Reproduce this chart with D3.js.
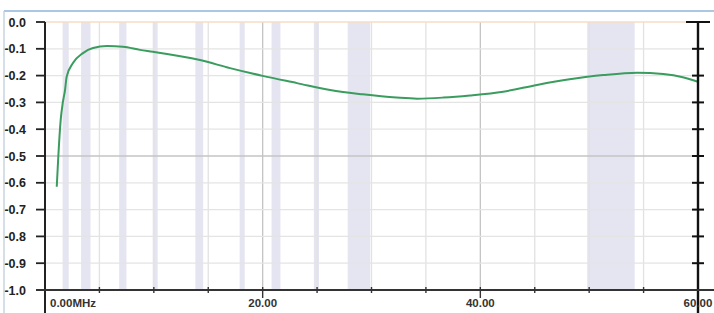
<!DOCTYPE html>
<html><head><meta charset="utf-8">
<script src="https://cdn.jsdelivr.net/npm/d3@7"></script>
<style>html,body{margin:0;padding:0;background:#fff;}svg{display:block;}</style>
</head><body>
<svg id="c" width="714" height="313"></svg>
<script>
const freqMHz = [1.08,1.22,1.44,1.63,1.84,1.99,2.57,3.49,4.41,5.70,7.17,8.73,9.92,14.24,17.0,20.0,23.15,26.2,29.2,32.3,34.2,36.6,39.05,42.1,45.2,48.2,51.3,54.4,56.8,58.6,60.0];
const levelDb = [-0.615,-0.504,-0.366,-0.302,-0.254,-0.204,-0.153,-0.116,-0.097,-0.090,-0.092,-0.104,-0.111,-0.142,-0.172,-0.201,-0.228,-0.254,-0.270,-0.282,-0.286,-0.282,-0.274,-0.260,-0.235,-0.214,-0.198,-0.189,-0.194,-0.206,-0.223];
const bandStart = [1.8,3.5,7.0,10.1,14.0,18.068,21.0,24.89,28.0,50.0];
const bandEnd   = [2.0,4.0,7.3,10.15,14.35,18.168,21.45,24.99,29.7,54.0];
const yTicks = [0,-0.1,-0.2,-0.3,-0.4,-0.5,-0.6,-0.7,-0.8,-0.9,-1.0];
const yTickLabels = ["0.0","-0.1","-0.2","-0.3","-0.4","-0.5","-0.6","-0.7","-0.8","-0.9","-1.0"];
const xMinorTicks = [0,5,10,15,20,25,30,35,40,45,50,55,60];
const xLabelTicks = [0,20,40,60];
const xLabels = ["0.00MHz","20.00","40.00","60.00"];

const svg = d3.select("#c");
const x = d3.scaleLinear().domain([0,60]).range([45,698]);
const y = d3.scaleLinear().domain([0,-1]).range([22,290]);

// window frame
svg.append("line").attr("x1",4).attr("x2",714).attr("y1",11).attr("y2",11).attr("stroke","#8fb6da").attr("stroke-width",1.5);
svg.append("line").attr("x1",4).attr("x2",4).attr("y1",11).attr("y2",313).attr("stroke","#b9c9d8").attr("stroke-width",1.2);

// bands
const bands = bandStart.map((s,i)=>({s,e:bandEnd[i]}));
const bw = d=>Math.max(x(d.e)-x(d.s)+4,5);
svg.append("g").selectAll("rect").data(bands).join("rect")
  .attr("x",d=>(x(d.s)+x(d.e))/2-bw(d)/2)
  .attr("width",bw)
  .attr("y",y(0)).attr("height",y(-1)-y(0))
  .attr("fill","#e5e5f1");

// grid
const g = svg.append("g");
g.selectAll(".vg").data(xMinorTicks.filter(v=>v>0&&v<60)).join("line")
  .attr("x1",d=>x(d)).attr("x2",d=>x(d)).attr("y1",y(0)).attr("y2",y(-1))
  .attr("stroke",d=>d%20===0?"#c4c4c4":"#e2e2e2").attr("stroke-width",1.3);
g.selectAll(".hg").data(yTicks.filter(v=>v<0&&v>-1)).join("line")
  .attr("x1",x(0)).attr("x2",x(60)).attr("y1",d=>y(d)).attr("y2",d=>y(d))
  .attr("stroke",d=>Math.abs(d+0.5)<1e-6?"#c4c4c4":"#e4e4e4").attr("stroke-width",1.3);
// top line
svg.append("line").attr("x1",x(0)).attr("x2",x(60)).attr("y1",y(0)).attr("y2",y(0)).attr("stroke","#f7dcc4").attr("stroke-width",1.3);

// curve
const pts = freqMHz.map((f,i)=>[f,levelDb[i]]);
svg.append("path").datum(pts)
  .attr("d",d3.line().x(d=>x(d[0])).y(d=>y(d[1])).curve(d3.curveMonotoneX))
  .attr("fill","none").attr("stroke","#3a9c5e").attr("stroke-width",2);

// left axis
svg.append("line").attr("x1",x(0)).attr("x2",x(0)).attr("y1",y(0)).attr("y2",313).attr("stroke","#222").attr("stroke-width",2);
svg.append("g").selectAll("line").data(yTicks).join("line")
  .attr("x1",36).attr("x2",x(0)).attr("y1",d=>y(d)).attr("y2",d=>y(d)).attr("stroke","#222").attr("stroke-width",1.8);
svg.append("g").selectAll("text").data(yTicks).join("text")
  .attr("x",26).attr("y",d=>y(d)).attr("dy","0.36em").attr("text-anchor","end")
  .attr("font-family","Liberation Sans, Arial, sans-serif").attr("font-weight","bold").attr("font-size",12.5)
  .attr("fill","#222").text((d,i)=>yTickLabels[i]);

// right axis
svg.append("line").attr("x1",x(60)).attr("x2",x(60)).attr("y1",y(0)).attr("y2",313).attr("stroke","#111").attr("stroke-width",2.4);
svg.append("g").selectAll("line").data(yTicks).join("line")
  .attr("x1",d=>d===0?686:692).attr("x2",d=>d===0?710:704).attr("y1",d=>y(d)).attr("y2",d=>y(d)).attr("stroke","#111").attr("stroke-width",2);

// bottom axis
svg.append("line").attr("x1",36).attr("x2",714).attr("y1",y(-1)).attr("y2",y(-1)).attr("stroke","#333").attr("stroke-width",1.8);
svg.append("g").selectAll("line").data(xMinorTicks.filter(v=>v>0&&v<60)).join("line")
  .attr("x1",d=>x(d)).attr("x2",d=>x(d)).attr("y1",y(-1)-3).attr("y2",d=>d%20===0?y(-1)+8:y(-1)+3)
  .attr("stroke","#333").attr("stroke-width",1.4);
svg.append("g").selectAll("text").data(xLabelTicks).join("text")
  .attr("x",d=>d===0?x(0)+5:x(d)).attr("y",307).attr("text-anchor",d=>d===0?"start":"middle")
  .attr("font-family","Liberation Sans, Arial, sans-serif").attr("font-weight","bold").attr("font-size",11.5)
  .attr("fill","#333").text((d,i)=>xLabels[i]);
</script>
</body></html>
